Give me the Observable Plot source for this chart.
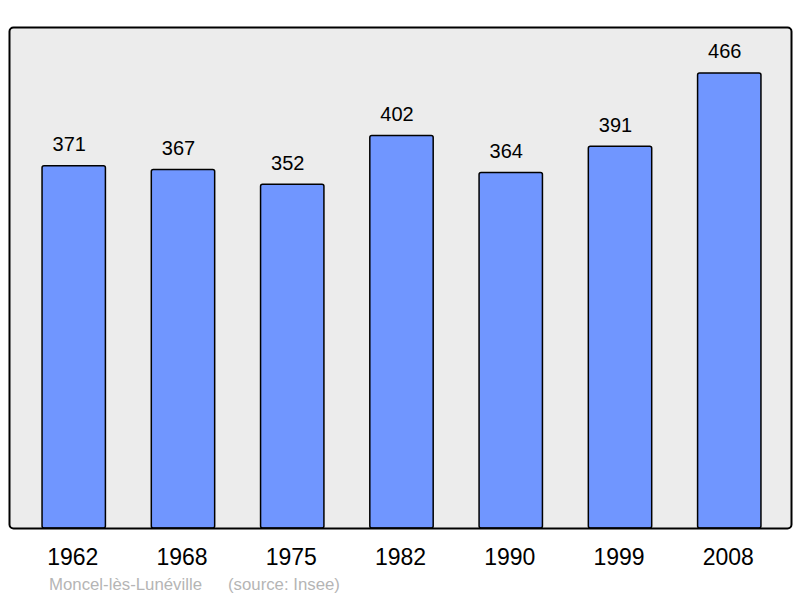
<!DOCTYPE html>
<html>
<head>
<meta charset="utf-8">
<script src="https://cdn.jsdelivr.net/npm/d3@7"></script>
<script src="https://cdn.jsdelivr.net/npm/@observablehq/plot@0.6"></script>
<style>
  html, body { margin: 0; padding: 0; background: #fff; }
  svg { font-family: "Liberation Sans", Arial, sans-serif; }
</style>
</head>
<body>
<div id="chart"></div>
<script>
const years = ["1962", "1968", "1975", "1982", "1990", "1999", "2008"];
const population = [371, 367, 352, 402, 364, 391, 466];
const commune = "Moncel-lès-Lunéville";
const source = "(source: Insee)";

const data = years.map((y, i) => ({year: y, value: population[i]}));

const chart = Plot.plot({
  width: 800,
  height: 598,
  marginLeft: 9,
  marginRight: 9,
  marginTop: 27,
  marginBottom: 70,
  style: {background: "#fff", fontFamily: "Liberation Sans, Arial, sans-serif"},
  x: {domain: years, range: [12, 791], round: false, paddingInner: 0.42, paddingOuter: 0.275, label: null},
  y: {domain: [0, 513], axis: null},
  marks: [
    Plot.frame({fill: "#ececec", stroke: null, rx: 4}),
    Plot.barY(data, {x: "year", y: "value", fill: "#7096ff", stroke: "#000", strokeWidth: 1.5, rx: 2}),
    Plot.text(data, {x: "year", y: "value", text: d => String(d.value), dx: -5, dy: -15, lineAnchor: "bottom", fontSize: 20, fill: "#000"}),
    Plot.frame({stroke: "#000", strokeWidth: 2, rx: 4}),
    Plot.axisX({tickSize: 0, tickPadding: 20, dx: -1.5, fontSize: 23, fill: "#000", label: null})
  ]
});

const svg = d3.select(chart);
svg.append("text").attr("x", 49).attr("y", 590)
  .style("font-size", "16.8px").style("text-anchor", "start").attr("fill", "#b5b5b5").text(commune);
svg.append("text").attr("x", 228).attr("y", 590)
  .style("font-size", "16.8px").style("text-anchor", "start").attr("fill", "#b5b5b5").text(source);

document.getElementById("chart").appendChild(chart);
</script>
</body>
</html>
